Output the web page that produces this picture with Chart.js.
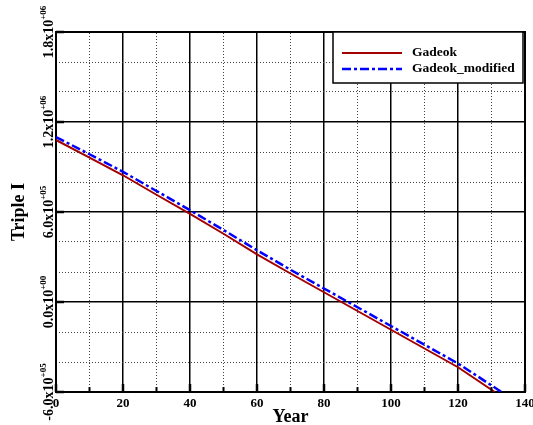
<!DOCTYPE html>
<html><head><meta charset="utf-8">
<script src="https://cdn.jsdelivr.net/npm/chart.js@4/dist/chart.umd.min.js"></script>
<style>html,body{margin:0;padding:0;background:#fff}</style>
</head><body>
<canvas id="c" width="533" height="425"></canvas>
<script>
// ---- data ----
const years = [0, 10, 20, 30, 40, 50, 60, 70, 80, 90, 100, 110, 120, 131];
const gadeok = [1080000, 963000, 845000, 715000, 588000, 455000, 318000, 190000, 65000, -60000, -185000, -310000, -435000, -600000];
const yearsModified = [0, 10, 20, 30, 40, 50, 60, 70, 80, 90, 100, 110, 120, 133];
const gadeokModified = [1100000, 985000, 868000, 740000, 612000, 480000, 345000, 215000, 90000, -35000, -160000, -285000, -410000, -600000];
const seriesNames = ['Gadeok', 'Gadeok_modified'];
const yTickValues = [-600000, 0, 600000, 1200000, 1800000];
const yTickMantissa = ['-6.0x10', '0.0x10', '6.0x10', '1.2x10', '1.8x10'];
const yTickExponent = ['+05', '+00', '+05', '+06', '+06'];
const xAxisTitle = 'Year';
const yAxisTitle = 'Triple I';

const SERIF = "'Liberation Serif', 'Times New Roman', serif";
const toPts = (xs, ys) => xs.map((x, i) => ({x, y: ys[i]}));

const decorations = {
  id: 'decorations',
  afterDraw(chart) {
    const ctx = chart.ctx;
    const xs = chart.scales.x, ys = chart.scales.y;
    const ca = chart.chartArea;
    ctx.save();
    // inner tick marks
    ctx.strokeStyle = '#000';
    for (let v = 0; v <= 140; v += 10) {
      const px = xs.getPixelForValue(v);
      ctx.lineWidth = (v % 20 === 0) ? 2.5 : 2;
      ctx.beginPath(); ctx.moveTo(px, ca.bottom); ctx.lineTo(px, ca.bottom - (v % 20 === 0 ? 8 : 5)); ctx.stroke();
    }
    yTickValues.forEach(v => {
      const py = ys.getPixelForValue(v);
      ctx.lineWidth = 2.5;
      ctx.beginPath(); ctx.moveTo(ca.left, py); ctx.lineTo(ca.left + 8, py); ctx.stroke();
    });
    // y tick labels (rotated, with superscript exponent)
    ctx.fillStyle = '#000';
    ctx.textBaseline = 'alphabetic';
    ctx.textAlign = 'left';
    yTickValues.forEach((v, i) => {
      const py = ys.getPixelForValue(v);
      ctx.font = 'bold 14px ' + SERIF;
      const w1 = ctx.measureText(yTickMantissa[i]).width;
      ctx.font = 'bold 9px ' + SERIF;
      const w2 = ctx.measureText(yTickExponent[i]).width;
      const start = -(w1 + w2) / 2;
      ctx.save();
      ctx.translate(ca.left - 3, py);
      ctx.rotate(-Math.PI / 2);
      ctx.font = 'bold 14px ' + SERIF;
      ctx.fillText(yTickMantissa[i], start, 0);
      ctx.font = 'bold 9px ' + SERIF;
      ctx.fillText(yTickExponent[i], start + w1, -7);
      ctx.restore();
    });
    // legend
    const lx = 333, ly = ca.top, lw = ca.right - 2 - 333, lh = 51;
    ctx.fillStyle = '#fff';
    ctx.fillRect(lx, ly, lw, lh);
    ctx.strokeStyle = '#000'; ctx.lineWidth = 1.5;
    ctx.strokeRect(lx, ly, lw, lh);
    chart.data.datasets.forEach((ds, i) => {
      const yy = ly + 21 + i * 16;
      ctx.strokeStyle = ds.borderColor;
      ctx.lineWidth = ds.borderWidth;
      ctx.setLineDash(ds.borderDash || []);
      ctx.beginPath(); ctx.moveTo(342, yy); ctx.lineTo(402, yy); ctx.stroke();
      ctx.setLineDash([]);
      ctx.fillStyle = '#000';
      ctx.font = 'bold 13.5px ' + SERIF;
      ctx.textBaseline = 'middle';
      ctx.fillText(ds.label, 412, yy);
    });
    ctx.restore();
  }
};

new Chart(document.getElementById('c'), {
  type: 'line',
  data: {
    datasets: [
      {label: seriesNames[0], data: toPts(years, gadeok), borderColor: '#a40000', borderWidth: 2,
       pointRadius: 0, tension: 0, fill: false, order: 1},
      {label: seriesNames[1], data: toPts(yearsModified, gadeokModified), borderColor: '#0000ff', borderWidth: 2.5,
       borderDash: [9, 3, 3, 3], pointRadius: 0, tension: 0, fill: false, order: 0}
    ]
  },
  options: {
    responsive: false,
    animation: false,
    devicePixelRatio: 1,
    layout: {padding: {top: 32, right: 8, left: 0, bottom: 0}},
    plugins: {legend: {display: false}, tooltip: {enabled: false}},
    scales: {
      x: {
        type: 'linear', position: 'bottom', min: 0, max: 140,
        ticks: {stepSize: 20, color: '#000', font: {family: SERIF, size: 13, weight: 'bold'}, padding: 4, maxRotation: 0},
        grid: {color: '#000', lineWidth: 1.5, drawTicks: false},
        border: {display: true, color: '#000', width: 2},
        title: {display: true, text: xAxisTitle, color: '#000', font: {family: SERIF, size: 18, weight: 'bold', lineHeight: 0.9}, padding: 0},
        afterFit(s) { s.height = 33; s.paddingLeft = 0; s.paddingRight = 0; }
      },
      y: {
        type: 'linear', position: 'left', min: -600000, max: 1800000,
        ticks: {stepSize: 600000, display: false},
        grid: {color: '#000', lineWidth: 1.5, drawTicks: false},
        border: {display: true, color: '#000', width: 2},
        title: {display: true, text: yAxisTitle, color: '#000', font: {family: SERIF, size: 18, weight: 'bold', lineHeight: 2.1}, padding: 0},
        afterFit(s) { s.width = 56; s.paddingTop = 0; s.paddingBottom = 0; }
      },
      x2: {
        type: 'linear', position: 'top', min: 0, max: 140,
        ticks: {stepSize: 10, display: false},
        grid: {color: c => (c.tick && c.tick.value % 20 === 0) ? 'rgba(0,0,0,0)' : '#444', lineWidth: 1, drawTicks: false},
        border: {display: true, color: '#000', width: 2, dash: [1, 2]},
        afterFit(s) { s.height = 0; s.paddingLeft = 0; s.paddingRight = 0; }
      },
      y2: {
        type: 'linear', position: 'right', min: -600000, max: 1800000,
        ticks: {stepSize: 200000, display: false},
        grid: {color: c => (c.tick && Math.round(c.tick.value) % 600000 === 0) ? 'rgba(0,0,0,0)' : '#444', lineWidth: 1, drawTicks: false},
        border: {display: true, color: '#000', width: 2, dash: [1, 2]},
        afterFit(s) { s.width = 0; s.paddingTop = 0; s.paddingBottom = 0; }
      }
    }
  },
  plugins: [decorations]
});
</script>
</body></html>
